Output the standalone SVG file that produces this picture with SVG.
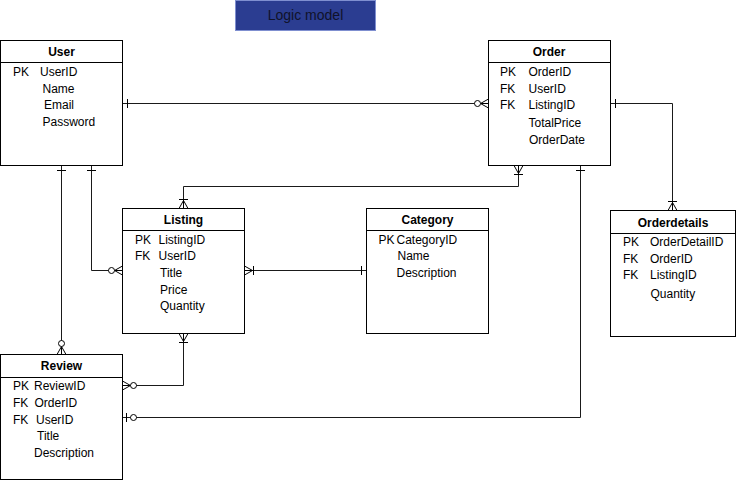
<svg xmlns="http://www.w3.org/2000/svg" width="736" height="481" viewBox="0 0 736 481">
<style>
  .box { fill: #fff; stroke: #000; stroke-width: 1; }
  .sep { stroke: #000; stroke-width: 1; }
  .title { font-family: "Liberation Sans", Arial, sans-serif; font-size: 12px; font-weight: bold; fill: #000; text-anchor: middle; }
  .row { font-family: "Liberation Sans", Arial, sans-serif; font-size: 12px; fill: #000; }
  .conn { fill: none; stroke: #1a1a1a; stroke-width: 1; }
  .mk { fill: none; stroke: #000; stroke-width: 1; }
  .mkc { fill: #fff; stroke: #000; stroke-width: 1; }
</style>
<defs>
  <marker id="one" markerUnits="userSpaceOnUse" orient="auto-start-reverse" refX="0" refY="0" markerWidth="1" markerHeight="1" overflow="visible">
    <path class="mk" d="M-5,-4.5 V4.5"/>
  </marker>
  <marker id="zeroMany" markerUnits="userSpaceOnUse" orient="auto-start-reverse" refX="0" refY="0" markerWidth="1" markerHeight="1" overflow="visible">
    <path class="mk" d="M-8,0 L0,-4.5 M-8,0 L0,4.5 M-8,0 L0,0"/>
    <circle class="mkc" cx="-11" cy="0" r="3"/>
  </marker>
  <marker id="oneMany" markerUnits="userSpaceOnUse" orient="auto-start-reverse" refX="0" refY="0" markerWidth="1" markerHeight="1" overflow="visible">
    <path class="mk" d="M-8,0 L0,-4.5 M-8,0 L0,4.5 M-8,0 L0,0 M-9,-4.5 V4.5"/>
  </marker>
  <marker id="zeroOne" markerUnits="userSpaceOnUse" orient="auto-start-reverse" refX="0" refY="0" markerWidth="1" markerHeight="1" overflow="visible">
    <path class="mk" d="M-4,-4.5 V4.5"/>
    <circle class="mkc" cx="-11" cy="0" r="3"/>
  </marker>
</defs>
<rect width="736" height="481" fill="#fff"/>

<g id="title-banner">
  <rect x="235.5" y="0.5" width="140" height="30" fill="#2b3d91" stroke="#7f8fd0" stroke-width="1"/>
  <text x="305.5" y="20" font-family="Liberation Sans, Arial, sans-serif" font-size="14" fill="#10122a" text-anchor="middle">Logic model</text>
</g>

<g id="connectors">
  <path class="conn" d="M122.5,103.5 H488.5" marker-start="url(#one)" marker-end="url(#zeroMany)"/>
  <path class="conn" d="M518.5,165.5 V186.5 H183.5 V208.5" marker-start="url(#oneMany)" marker-end="url(#oneMany)"/>
  <path class="conn" d="M610.5,103.5 H672.5 V210.5" marker-start="url(#one)" marker-end="url(#oneMany)"/>
  <path class="conn" d="M580.5,165.5 V417.5 H122.5" marker-start="url(#one)" marker-end="url(#zeroOne)"/>
  <path class="conn" d="M61.5,165.5 V354.5" marker-start="url(#one)" marker-end="url(#zeroMany)"/>
  <path class="conn" d="M91.5,165.5 V270.5 H122.5" marker-start="url(#one)" marker-end="url(#zeroMany)"/>
  <path class="conn" d="M244.5,270.5 H366.5" marker-start="url(#oneMany)" marker-end="url(#one)"/>
  <path class="conn" d="M183.5,333.5 V385.5 H122.5" marker-start="url(#oneMany)" marker-end="url(#zeroMany)"/>
</g>

<g id="user">
  <rect class="box" x="0.5" y="40.5" width="122" height="125"/>
  <line class="sep" x1="0.5" y1="62.5" x2="122.5" y2="62.5"/>
  <text class="title" x="61.5" y="56">User</text>
  <text class="row" x="13" y="76">PK</text>
  <text class="row" x="40" y="76">UserID</text>
  <text class="row" x="42.5" y="93">Name</text>
  <text class="row" x="44" y="109">Email</text>
  <text class="row" x="42.5" y="126">Password</text>
</g>

<g id="order">
  <rect class="box" x="488.5" y="40.5" width="122" height="125"/>
  <line class="sep" x1="488.5" y1="62.5" x2="610.5" y2="62.5"/>
  <text class="title" x="549" y="56">Order</text>
  <text class="row" x="500" y="76">PK</text>
  <text class="row" x="528.5" y="76">OrderID</text>
  <text class="row" x="500" y="93">FK</text>
  <text class="row" x="528.5" y="93">UserID</text>
  <text class="row" x="500" y="109">FK</text>
  <text class="row" x="528.5" y="109">ListingID</text>
  <text class="row" x="528.5" y="126.5">TotalPrice</text>
  <text class="row" x="529" y="144">OrderDate</text>
</g>

<g id="orderdetails">
  <rect class="box" x="610.5" y="210.5" width="125" height="126"/>
  <line class="sep" x1="610.5" y1="233.5" x2="735.5" y2="233.5"/>
  <text class="title" x="673" y="227">Orderdetails</text>
  <text class="row" x="623" y="246">PK</text>
  <text class="row" x="650" y="246">OrderDetailID</text>
  <text class="row" x="623" y="263">FK</text>
  <text class="row" x="650" y="263">OrderID</text>
  <text class="row" x="623" y="279">FK</text>
  <text class="row" x="650" y="279">ListingID</text>
  <text class="row" x="650.5" y="298">Quantity</text>
</g>

<g id="listing">
  <rect class="box" x="122.5" y="208.5" width="122" height="125"/>
  <line class="sep" x1="122.5" y1="230.5" x2="244.5" y2="230.5"/>
  <text class="title" x="183.5" y="223.5">Listing</text>
  <text class="row" x="135" y="243.5">PK</text>
  <text class="row" x="158.5" y="243.5">ListingID</text>
  <text class="row" x="135" y="260">FK</text>
  <text class="row" x="158.5" y="260">UserID</text>
  <text class="row" x="160" y="277">Title</text>
  <text class="row" x="160" y="293.5">Price</text>
  <text class="row" x="160" y="310">Quantity</text>
</g>

<g id="category">
  <rect class="box" x="366.5" y="208.5" width="122" height="125"/>
  <line class="sep" x1="366.5" y1="230.5" x2="488.5" y2="230.5"/>
  <text class="title" x="427.5" y="224">Category</text>
  <text class="row" x="378.5" y="243.5">PK</text>
  <text class="row" x="396.5" y="243.5">CategoryID</text>
  <text class="row" x="397.5" y="260">Name</text>
  <text class="row" x="396.5" y="277">Description</text>
</g>

<g id="review">
  <rect class="box" x="0.5" y="354.5" width="122" height="125"/>
  <line class="sep" x1="0.5" y1="377.5" x2="122.5" y2="377.5"/>
  <text class="title" x="61.5" y="369.5">Review</text>
  <text class="row" x="13" y="390">PK</text>
  <text class="row" x="34" y="390">ReviewID</text>
  <text class="row" x="13" y="407">FK</text>
  <text class="row" x="34.5" y="407">OrderID</text>
  <text class="row" x="13" y="423.5">FK</text>
  <text class="row" x="36" y="423.5">UserID</text>
  <text class="row" x="37" y="440">Title</text>
  <text class="row" x="34" y="457">Description</text>
</g>
</svg>
